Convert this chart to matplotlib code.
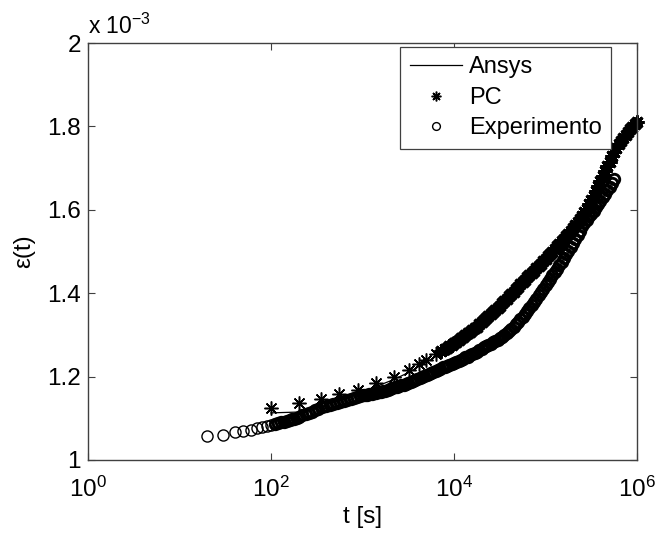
import matplotlib
matplotlib.use("Agg")
import matplotlib.pyplot as plt
from matplotlib.ticker import FixedLocator, NullLocator

plt.rcParams["font.family"] = ["Liberation Sans", "DejaVu Sans"]
plt.rcParams["mathtext.fontset"] = "custom"
plt.rcParams["mathtext.rm"] = "Liberation Sans"
plt.rcParams["mathtext.it"] = "Liberation Sans:italic"

# strain values are in units of 1e-3 (axis multiplier "x 10^-3")

# shared log-spaced time grids read along the dense parts of the curves
t_dec3 = [1000, 1060, 1120, 1190, 1260, 1330, 1410, 1500, 1580, 1680,
          1780, 1880, 2000, 2110, 2240, 2370, 2510, 2660, 2820, 2990,
          3160, 3350, 3550, 3760, 3980, 4220, 4470, 4730, 5010, 5310,
          5620, 5960, 6310, 6680, 7080, 7500, 7940, 8410, 8910, 9440]
t_dec4 = [10000, 10600, 11200, 11900, 12600, 13300, 14100, 15000, 15800, 16800,
          17800, 18800, 20000, 21100, 22400, 23700, 25100, 26600, 28200, 29900,
          31600, 33500, 35500, 37600, 39800, 42200, 44700, 47300, 50100, 53100,
          56200, 59600, 63100, 66800, 70800, 75000, 79400, 84100, 89100, 94400]
t_dec5 = [100000, 106000, 112000, 119000, 126000, 133000, 141000, 150000, 158000, 168000,
          178000, 188000, 200000, 211000, 224000, 237000, 251000, 266000, 282000, 299000,
          316000, 335000, 355000, 376000, 398000, 422000, 447000, 473000, 501000, 531000,
          562000, 596000, 631000, 668000, 708000, 750000, 794000, 841000, 891000, 944000]

# Experimento
exp_t_start = [20, 30, 40, 50, 60, 70, 80, 90, 100]
exp_eps_start = [1.058, 1.061, 1.067, 1.070, 1.073, 1.076, 1.078, 1.081, 1.084]
exp_t_mid = [110, 120, 130, 140, 150, 160, 170, 180, 190, 200, 220, 240, 260, 280,
             300, 330, 360, 400, 440, 480, 520, 570, 620, 680, 740, 800, 870, 950]
exp_eps_mid = [1.086, 1.088, 1.090, 1.092, 1.094, 1.096, 1.098, 1.099, 1.101, 1.103,
               1.107, 1.110, 1.113, 1.116, 1.119, 1.122, 1.126, 1.129, 1.132, 1.135,
               1.137, 1.140, 1.142, 1.145, 1.147, 1.149, 1.151, 1.153]
exp_eps_dec3 = [1.155, 1.156, 1.157, 1.158, 1.159, 1.160, 1.161, 1.162, 1.163, 1.165,
                1.166, 1.168, 1.170, 1.172, 1.174, 1.175, 1.177, 1.179, 1.181, 1.182,
                1.184, 1.186, 1.189, 1.191, 1.194, 1.196, 1.199, 1.201, 1.204, 1.206,
                1.209, 1.212, 1.214, 1.217, 1.219, 1.222, 1.224, 1.226, 1.228, 1.230]
exp_eps_dec4 = [1.232, 1.234, 1.237, 1.240, 1.243, 1.246, 1.248, 1.252, 1.255, 1.257,
                1.260, 1.264, 1.267, 1.270, 1.273, 1.276, 1.279, 1.282, 1.285, 1.288,
                1.292, 1.296, 1.300, 1.304, 1.309, 1.314, 1.319, 1.325, 1.331, 1.337,
                1.343, 1.350, 1.357, 1.364, 1.372, 1.379, 1.387, 1.395, 1.403, 1.411]
exp_eps_dec5 = [1.419, 1.427, 1.435, 1.443, 1.451, 1.459, 1.467, 1.475, 1.484, 1.493,
                1.502, 1.511, 1.520, 1.530, 1.540, 1.550, 1.560, 1.568, 1.576, 1.584,
                1.591, 1.598, 1.606, 1.613, 1.621, 1.630, 1.638, 1.647, 1.655, 1.664,
                1.673]

# PC
pc_t_start = [100, 200, 350, 560, 900, 1400, 2200, 3200, 4100, 5000, 6300]
pc_eps_start = [1.124, 1.136, 1.146, 1.158, 1.169, 1.185, 1.200, 1.217, 1.231, 1.241,
                1.254]
pc_t_mid = [7300, 7940, 8410, 8910, 9440]
pc_eps_mid = [1.261, 1.266, 1.269, 1.273, 1.276]
pc_eps_dec4 = [1.280, 1.284, 1.288, 1.292, 1.296, 1.300, 1.304, 1.308, 1.312, 1.316,
               1.320, 1.325, 1.330, 1.335, 1.340, 1.345, 1.350, 1.355, 1.360, 1.365,
               1.370, 1.376, 1.381, 1.387, 1.393, 1.398, 1.404, 1.410, 1.415, 1.421,
               1.427, 1.432, 1.438, 1.443, 1.449, 1.454, 1.460, 1.466, 1.471, 1.477]
pc_eps_dec5 = [1.483, 1.489, 1.494, 1.500, 1.506, 1.512, 1.518, 1.524, 1.530, 1.537,
               1.543, 1.550, 1.557, 1.564, 1.571, 1.578, 1.585, 1.594, 1.603, 1.613,
               1.623, 1.634, 1.645, 1.657, 1.669, 1.681, 1.693, 1.704, 1.715, 1.728,
               1.738, 1.748, 1.757, 1.765, 1.773, 1.780, 1.787, 1.793, 1.799, 1.805]
pc_t_end = [1000000]
pc_eps_end = [1.811]

# Ansys
ansys_t = [100, 200, 350, 560, 900, 1400, 2200, 3200, 5000, 7300, 10000,
           31600, 100000, 200000, 316000, 501000, 1000000]
ansys_eps = [1.113, 1.115, 1.129, 1.146, 1.160, 1.176, 1.193, 1.210, 1.235, 1.256,
             1.278, 1.370, 1.483, 1.557, 1.623, 1.715, 1.811]

# dense parts (markers overlap into a solid band)
exp_t_dense = exp_t_mid + t_dec3 + t_dec4 + t_dec5[:len(exp_eps_dec5)]
exp_eps_dense = exp_eps_mid + exp_eps_dec3 + exp_eps_dec4 + exp_eps_dec5
pc_t_dense = pc_t_mid + t_dec4 + t_dec5 + pc_t_end
pc_eps_dense = pc_eps_mid + pc_eps_dec4 + pc_eps_dec5 + pc_eps_end

fig = plt.figure(figsize=(6.62, 5.33), dpi=100)
ax = fig.add_axes([88 / 662, 73 / 533, 549 / 662, 417 / 533])

star = (8, 2, 0)
ax.plot(ansys_t, ansys_eps, color="black", lw=0.9, label="Ansys")
ax.plot(pc_t_start, pc_eps_start, ls="none", marker=star, ms=10, mew=1.1,
        color="black", label="PC")
ax.plot(pc_t_dense, pc_eps_dense, ls="none", marker=star, ms=10, mew=2.1,
        color="black", clip_on=False)
ax.plot(exp_t_start, exp_eps_start, ls="none", marker="o", ms=8, mew=1.0, mfc="none",
        mec="black", label="Experimento")
ax.plot(exp_t_dense, exp_eps_dense, ls="none", marker="o", ms=7.5, mew=2.1, mfc="none",
        mec="black")

ax.set_xscale("log")
ax.set_xlim(1, 1e6)
ax.set_ylim(1.0, 2.0)
ax.xaxis.set_major_locator(FixedLocator([1, 1e2, 1e4, 1e6]))
ax.xaxis.set_minor_locator(NullLocator())
ax.set_xticklabels([r"$\mathregular{10^{0}}$", r"$\mathregular{10^{2}}$",
                    r"$\mathregular{10^{4}}$", r"$\mathregular{10^{6}}$"])
ax.set_yticks([1.0, 1.2, 1.4, 1.6, 1.8, 2.0])
ax.set_yticklabels(["1", "1.2", "1.4", "1.6", "1.8", "2"])

edge = "#404040"
for s in ax.spines.values():
    s.set_color(edge)
    s.set_linewidth(1.0)
ax.tick_params(direction="in", length=5, width=0.8, color=edge, labelsize=17.5,
               top=True, right=True, pad=5)
ax.tick_params(axis="x", pad=12)

ax.set_xlabel("t [s]", fontsize=17.5, labelpad=3)
ax.set_ylabel("ε(t)", fontsize=17.5, labelpad=9)

ax.annotate(r"x 10$^{\mathregular{-3}}$", xy=(0, 1), xycoords="axes fraction",
            xytext=(0, 3), textcoords="offset points", fontsize=16.5,
            ha="left", va="bottom")

leg = ax.legend(loc="upper right", bbox_to_anchor=((611 - 88) / 549, (460 - 47) / 417),
                borderaxespad=0, fontsize=17, handlelength=2.2, handletextpad=0.3,
                labelspacing=0.36, borderpad=0.4, markerscale=0.7,
                fancybox=False, framealpha=1)
leg.get_frame().set_edgecolor(edge)
leg.get_frame().set_linewidth(0.9)

fig.savefig("out.png", dpi=100)
